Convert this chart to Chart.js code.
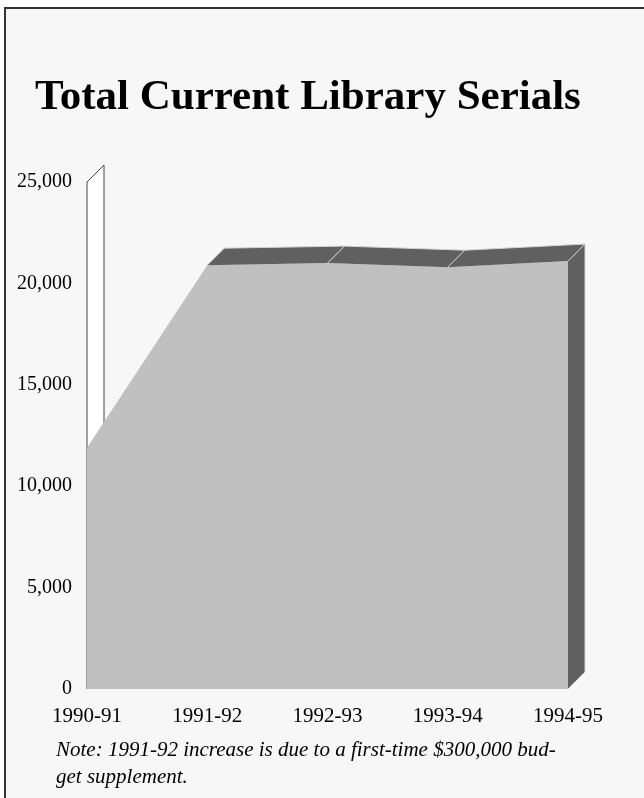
<!DOCTYPE html>
<html>
<head>
<meta charset="utf-8">
<script src="https://cdn.jsdelivr.net/npm/chart.js@4.4.1/dist/chart.umd.min.js"></script>
<style>
  body { margin: 0; background: #ffffff; }
  #frame {
    position: absolute; left: 4px; top: 7px; width: 650px; height: 800px;
    border-left: 2px solid #333; border-top: 2px solid #333;
    background: #f7f7f7;
  }
  #chartBox { position: absolute; left: 0; top: 0; width: 644px; height: 798px; }
  #title {
    position: absolute; left: 35px; top: 73px;
    font: bold 43px/43px "Liberation Serif", "Times New Roman", serif;
    color: #000; white-space: nowrap;
  }
  #note {
    position: absolute; left: 56px; top: 736px;
    font: italic 21px/27px "Liberation Serif", "Times New Roman", serif;
    color: #000; white-space: nowrap;
  }
</style>
</head>
<body>
<div id="frame"></div>
<div id="chartBox"><canvas id="serialsChart" width="644" height="798"></canvas></div>
<div id="title">Total Current Library Serials</div>
<div id="note">Note: 1991-92 increase is due to a first-time $300,000 bud-<br>get supplement.</div>
<script>
// chart data
var years = ['1990-91', '1991-92', '1992-93', '1993-94', '1994-95'];
var serials = [11900, 20900, 21000, 20800, 21100];
var yTicks = [0, 5000, 10000, 15000, 20000, 25000];

var depth = 17;

// draws the 3D wall behind and the top / side faces in front
var threeD = {
    id: 'threeD',
    beforeDatasetsDraw: function (chart) {
        var ctx = chart.ctx;
        var xs = chart.scales.x, ys = chart.scales.y;
        var x0 = xs.getPixelForValue(0);
        var yTop = ys.getPixelForValue(yTicks[yTicks.length - 1]);
        var yBot = ys.getPixelForValue(0);
        ctx.save();
        ctx.beginPath();
        ctx.moveTo(x0, yBot);
        ctx.lineTo(x0, yTop);
        ctx.lineTo(x0 + depth, yTop - depth);
        ctx.lineTo(x0 + depth, yBot - depth);
        ctx.closePath();
        ctx.fillStyle = '#ffffff';
        ctx.fill();
        ctx.strokeStyle = '#444444';
        ctx.lineWidth = 1;
        ctx.stroke();
        ctx.restore();
    },
    afterDatasetsDraw: function (chart) {
        var ctx = chart.ctx;
        var xs = chart.scales.x, ys = chart.scales.y;
        var yBot = ys.getPixelForValue(0);
        var pts = serials.map(function (v, i) {
            return { x: xs.getPixelForValue(i), y: ys.getPixelForValue(v) };
        });
        ctx.save();
        ctx.lineWidth = 1;
        for (var i = 0; i < pts.length - 1; i++) {
            var a = pts[i], b = pts[i + 1];
            var slope = (b.y - a.y) / (b.x - a.x);
            if (slope <= -1) continue; // top face hidden
            ctx.beginPath();
            ctx.moveTo(a.x, a.y);
            ctx.lineTo(b.x, b.y);
            ctx.lineTo(b.x + depth, b.y - depth);
            ctx.lineTo(a.x + depth, a.y - depth);
            ctx.closePath();
            ctx.fillStyle = '#606060';
            ctx.fill();
            ctx.strokeStyle = '#d4d4d4';
            ctx.beginPath();
            ctx.moveTo(a.x, a.y);
            ctx.lineTo(a.x + depth, a.y - depth);
            ctx.lineTo(b.x + depth, b.y - depth);
            ctx.stroke();
        }
        // right side face
        var p = pts[pts.length - 1];
        ctx.beginPath();
        ctx.moveTo(p.x, p.y);
        ctx.lineTo(p.x + depth, p.y - depth);
        ctx.lineTo(p.x + depth, yBot - depth);
        ctx.lineTo(p.x, yBot);
        ctx.closePath();
        ctx.fillStyle = '#606060';
        ctx.fill();
        ctx.strokeStyle = '#d4d4d4';
        ctx.beginPath();
        ctx.moveTo(p.x, p.y);
        ctx.lineTo(p.x + depth, p.y - depth);
        ctx.lineTo(p.x + depth, yBot - depth);
        ctx.lineTo(p.x, yBot);
        ctx.stroke();
        ctx.restore();
    }
};

var serialsCtx = document.getElementById('serialsChart').getContext('2d');
var serialsChart = new Chart(serialsCtx, {
    type: 'line',
    data: {
        labels: years,
        datasets: [
            {
                label: 'Total Current Library Serials',
                data: serials,
                backgroundColor: '#c0c0c0',
                borderColor: '#c0c0c0',
                borderWidth: 0,
                pointRadius: 0,
                tension: 0,
                fill: 'origin'
            }
        ]
    },
    options: {
        responsive: false,
        animation: false,
        layout: { padding: { left: 0, right: 76, top: 182, bottom: 69 } },
        plugins: {
            legend: { display: false },
            tooltip: { enabled: false }
        },
        scales: {
            x: {
                offset: false,
                grid: { display: false, drawTicks: false },
                border: { display: false },
                ticks: {
                    color: '#000',
                    padding: 15,
                    maxRotation: 0,
                    autoSkip: false,
                    font: { family: 'Liberation Serif', size: 21 }
                },
                afterFit: function (scale) { scale.height = 40; }
            },
            y: {
                min: 0,
                max: 25000,
                grid: { display: false, drawTicks: false },
                border: { display: false },
                afterBuildTicks: function (scale) {
                    scale.ticks = yTicks.map(function (v) { return { value: v }; });
                },
                ticks: {
                    color: '#000',
                    padding: 15,
                    font: { family: 'Liberation Serif', size: 20 },
                    callback: function (value) { return value.toLocaleString('en-US'); }
                },
                afterFit: function (scale) { scale.width = 87; }
            }
        }
    },
    plugins: [threeD]
});
</script>
</body>
</html>
